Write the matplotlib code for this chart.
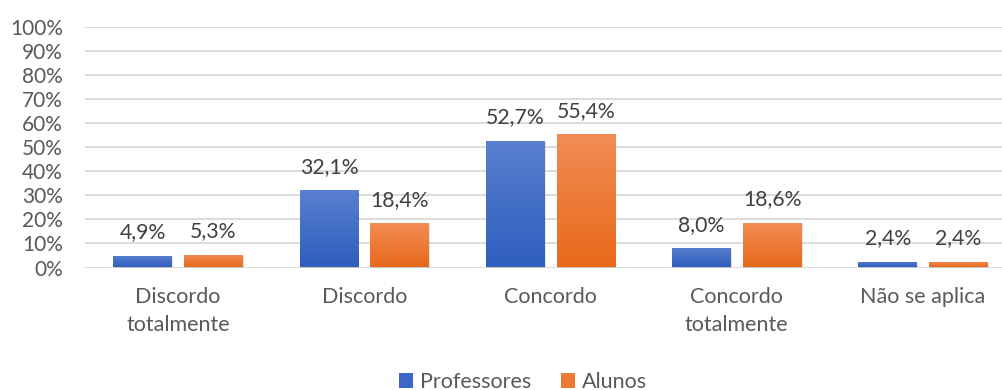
import numpy as np
import matplotlib
matplotlib.use("Agg")
import matplotlib.pyplot as plt
from matplotlib.colors import LinearSegmentedColormap
from matplotlib.patches import Patch

categories = ["Discordo\ntotalmente", "Discordo", "Concordo", "Concordo\ntotalmente", "Não se aplica"]
professores = [4.9, 32.1, 52.7, 8.0, 2.4]
alunos = [5.3, 18.4, 55.4, 18.6, 2.4]
series_names = ["Professores", "Alunos"]
yticks = list(range(0, 101, 10))

plt.rcParams["font.family"] = ["Lato", "DejaVu Sans"]
text_color = "#595959"

fig = plt.figure(figsize=(10.03, 3.9), dpi=100)
ax = fig.add_axes([85 / 1003, 1 - 267.5 / 390, (1003 - 85) / 1003, (267.5 - 27) / 390])

x = np.arange(len(categories))
width = 0.315
offset = 0.19

blue_cmap = LinearSegmentedColormap.from_list("b", ["#2E5EBE", "#5A80CF"])
orange_cmap = LinearSegmentedColormap.from_list("o", ["#E8691A", "#F28D55"])

def gradient_bars(xpos, values, cmap):
    bars = ax.bar(xpos, values, width, color="none", edgecolor="none", zorder=3)
    grad = np.linspace(0, 1, 256).reshape(-1, 1)
    for b in bars:
        x0, y0 = b.get_x(), b.get_y()
        w, h = b.get_width(), b.get_height()
        # soft drop shadow
        ax.bar(x0 + w / 2 + 0.006, h, w, bottom=-0.35, color="#000000", alpha=0.10,
               zorder=2.5, edgecolor="none")
        im = ax.imshow(grad, extent=[x0, x0 + w, y0, y0 + h], origin="lower",
                       aspect="auto", cmap=cmap, zorder=3)
        im.set_clip_path(b)
    return bars

bp = gradient_bars(x - offset, professores, blue_cmap)
ba = gradient_bars(x + offset, alunos, orange_cmap)

for xs, vals in ((x - offset, professores), (x + offset, alunos)):
    for xi, v in zip(xs, vals):
        ax.annotate(f"{v:.1f}%".replace(".", ","), (xi, v), xytext=(0, 17),
                    textcoords="offset points", ha="center", va="center",
                    fontsize=15.3, color="#404040")

ax.set_xlim(-0.5, (1003 - 178) / 186.25)
ax.set_ylim(0, 100)
ax.set_yticks(yticks)
ax.set_yticklabels([f"{t}%" for t in yticks], fontsize=15, color=text_color)
ax.set_xticks(x)
ax.set_xticklabels(categories, fontsize=15.5, color=text_color, linespacing=1.5)
ax.tick_params(axis="both", length=0)
ax.tick_params(axis="x", pad=14)
ax.tick_params(axis="y", pad=16)
ax.grid(axis="y", color="#D9D9D9", linewidth=1.3, zorder=0)
ax.set_axisbelow(True)
for s in ax.spines.values():
    s.set_visible(False)

handles = [Patch(facecolor="#3C67C4", edgecolor="none"),
           Patch(facecolor="#EE7A33", edgecolor="none")]
fig.legend(handles, series_names, loc="center", bbox_to_anchor=(523 / 1003, 1 - 382 / 390),
           ncol=2, frameon=False, fontsize=15.5, handlelength=0.65, handleheight=0.65,
           handletextpad=0.3, columnspacing=1.4, labelcolor=text_color)

fig.savefig("out.png", dpi=100)
